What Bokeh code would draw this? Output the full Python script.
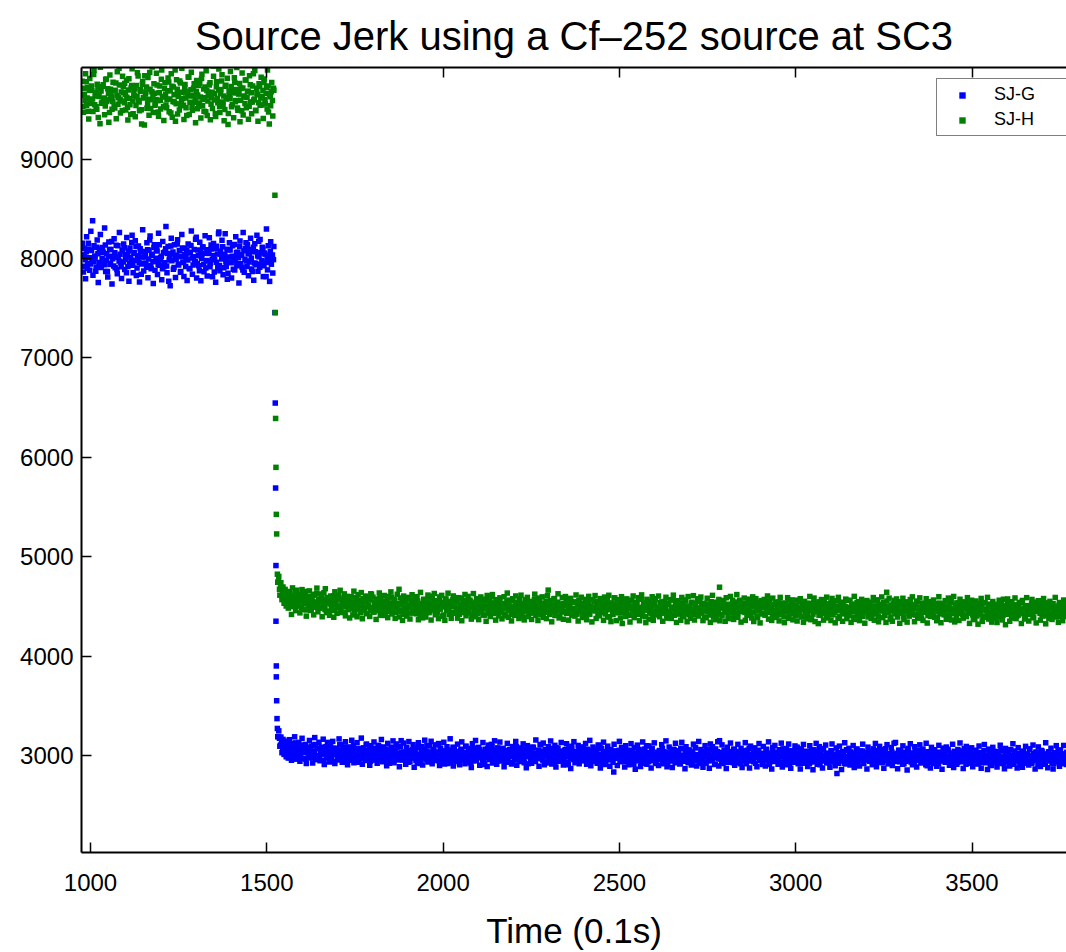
from bokeh.plotting import figure
from bokeh.models import Range1d, FixedTicker, LinearAxis, ColumnDataSource
from bokeh.embed import file_html
from bokeh.resources import INLINE

# ---------------- data ----------------
title_text = "Source Jerk using a Cf–252 source at SC3"
x_label = "Time (0.1s)"
series_names = ["SJ-G", "SJ-H"]
x_ticks = [1000, 1500, 2000, 2500, 3000, 3500]
y_ticks = [3000, 4000, 5000, 6000, 7000, 8000, 9000]

# sample times (0.1 s units) before and after the source was removed;
# two interleaved sample sets (a and b)
time_pre_a = list(range(976, 1522, 3))
time_pre_b = list(range(977, 1522, 3))
time_post_a = list(range(1530, 3772, 3))
time_post_b = list(range(1531, 3772, 3))

# ---- SJ-G (blue) ----
sj_g_pre_a = [
    8034, 7921, 8102, 7986, 8067, 7899, 8152, 8008, 7943, 8081,
    8379, 7967, 8025, 7872, 8113, 8046, 7958, 8094, 7910, 8003,
    8061, 7937, 8134, 7982, 7868, 8019, 8090, 7951, 8171, 7996,
    7925, 8056, 8011, 7889, 8128, 7973, 8042, 7917, 8085, 7964,
    8107, 7990, 7855, 8037, 8074, 7946, 8009, 8160, 7931, 8053,
    7978, 8119, 7904, 8026, 7961, 8098, 7840, 8015, 8069, 7952,
    8044, 7912, 8087, 7994, 8185, 7929, 8031, 7969, 8110, 7880,
    8001, 8076, 7940, 8138, 7987, 8022, 7895, 8058, 7956, 8097,
    7923, 8049, 7770, 8012, 8124, 7976, 8065, 7908, 8033, 7992,
    8145, 7944, 8079, 7862, 8018, 8106, 7959, 8040, 7918, 8083,
    7984, 8062, 7897, 8129, 8005, 7934, 8091, 7966, 8213, 7948,
    8027, 7876, 8071, 7999, 8116, 7939, 8052, 7903, 8087, 7975,
    8050, 7916, 8135, 7988, 8029, 7864, 8101, 7962, 8045, 8249,
    7930, 8073, 7995, 8118, 7906, 8038, 7970, 8092, 7851, 8014,
    8084, 7957, 8021, 7890, 8141, 7981, 8059, 7927, 8006, 8120,
    7947, 8036, 7884, 8077, 7993, 8158, 7919, 8048, 7965, 8089,
    8002, 7869, 8112, 7953, 8066, 7936, 8025, 8172, 7911, 8057,
    7979, 8094, 7926, 8043, 7817, 8010, 8127, 7960, 8070, 7942,
    8035, 7988,
]
sj_g_pre_b = [
    8152, 7863, 8031, 7795, 8218, 7947, 8096, 7881, 8274, 7990,
    7832, 8127, 8003, 7911, 8185, 7758, 8062, 8241, 7926, 8110,
    7974, 8305, 7869, 8047, 7812, 8166, 7938, 8089, 7743, 8021,
    8197, 7905, 8133, 7846, 8012, 8262, 7959, 7797, 8075, 8144,
    7889, 8036, 8211, 7920, 7771, 8104, 7982, 8233, 7855, 8058,
    8179, 7828, 7997, 8126, 7763, 8070, 7943, 8288, 7874, 8015,
    7952, 8159, 7806, 8083, 8226, 7897, 8041, 7749, 8138, 7968,
    8092, 7838, 8253, 7931, 8007, 7786, 8171, 7916, 8064, 8322,
    7857, 8119, 7985, 7724, 8202, 8046, 7891, 8137, 7809, 8028,
    8187, 7934, 8078, 7868, 8240, 7962, 7818, 8101, 8009, 7779,
    8146, 7899, 8057, 8276, 7841, 8018, 7956, 8193, 7802, 8086,
    7927, 8164, 7775, 8039, 8115, 7866, 8228, 7978, 7823, 8071,
    8209, 7948, 8094, 7815, 8151, 7993, 7760, 8122, 7907, 8266,
    7876, 8043, 8182, 7837, 8003, 8249, 7919, 7790, 8087, 8157,
    7965, 7803, 8128, 8010, 7884, 8219, 7937, 8061, 7752, 8175,
    8032, 7911, 8260, 7861, 8097, 7975, 8140, 7826, 8053, 8204,
    7893, 8069, 7781, 8148, 7950, 8233, 7871, 8016, 8191, 7940,
    8113, 7817, 8055, 7961, 8297, 7885, 8027, 7769, 8168, 7996,
    7853, 8120,
]
sj_g_step_time = [1523, 1524, 1525, 1526, 1526, 1527, 1527, 1528, 1529]
sj_g_step = [7455, 6545, 5690, 4910, 4350, 3900, 3790, 3550, 3370]
sj_g_post_a = [
    3271, 3188, 3172, 3104, 3139, 3061, 3118, 3049, 3097, 3031,
    3082, 3115, 3020, 3064, 2998, 3091, 3047, 3126, 3008, 3059,
    3073, 3018, 2987, 3044, 3102, 3029, 3066, 2961, 3035, 3081,
    3012, 3057, 3094, 2979, 3040, 3023, 3110, 2995, 3068, 3001,
    2984, 3049, 3077, 3015, 2950, 3036, 3088, 3009, 3131, 2972,
    3044, 2996, 3018, 3071, 2938, 3025, 3063, 2981, 3052, 3107,
    3006, 2964, 3039, 3085, 2991, 3020, 2947, 3058, 3013, 3076,
    2975, 3031, 3099, 2958, 3016, 3047, 2989, 2932, 3069, 3024,
    3054, 2993, 2968, 3037, 3109, 2979, 3012, 3061, 2940, 3028,
    2997, 3072, 3015, 2953, 3043, 2986, 3091, 3008, 2962, 3035,
    3019, 2945, 3064, 3002, 2977, 3050, 2921, 3026, 3083, 2990,
    3041, 2968, 3007, 3075, 2954, 3017, 2999, 3148, 2983, 3033,
    2959, 3022, 3066, 2994, 2931, 3045, 3010, 2972, 3057, 2987,
    3028, 2948, 3003, 3079, 2966, 2919, 3037, 3012, 2980, 3060,
    2993, 3041, 2955, 3018, 3096, 2974, 2937, 3024, 3051, 2989,
    2962, 3034, 3008, 2944, 3070, 2997, 3021, 2958, 2913, 3046,
    3015, 2976, 3053, 2991, 2934, 3030, 3082, 2968, 3004, 2950,
    3039, 2983, 2927, 3011, 3062, 2996, 2956, 3025, 3089, 2971,
    3002, 3048, 2963, 2918, 3033, 2987, 3074, 3009, 2945, 3020,
    2977, 3057, 2994, 3036, 2952, 3013, 2909, 3043, 2981, 3066,
    3014, 2969, 3029, 3092, 2988, 2940, 3055, 3006, 2961, 3031,
    2949, 3023, 2985, 3071, 3010, 2933, 2998, 3047, 2974, 3017,
    3060, 2992, 2926, 3038, 2966, 3003, 3087, 2957, 3019, 2980,
    3035, 2971, 3012, 2946, 3064, 2990, 3028, 2915, 3049, 3001,
    2962, 3026, 3081, 2979, 2938, 3016, 2995, 3053, 2968, 3108,
    2998, 2952, 3037, 3011, 2924, 3045, 2983, 3021, 2960, 3069,
    3007, 2975, 2931, 3033, 3076, 2987, 2950, 3014, 3042, 2966,
    3023, 2944, 3058, 2993, 3011, 2906, 3030, 2976, 3065, 2999,
    2958, 3040, 2981, 3017, 2937, 3050, 2972, 3004, 3085, 2949,
    3026, 2963, 2995, 3062, 2929, 3008, 3047, 2984, 2940, 3019,
    3055, 2977, 3035, 2953, 3002, 3079, 2967, 2921, 3028, 2990,
    2948, 3012, 3068, 2979, 3024, 2955, 3041, 2997, 2833, 3006,
    2970, 3032, 2986, 3051, 2935, 3015, 2962, 3073, 2994, 2942,
    3018, 2961, 3037, 2928, 2994, 3049, 2973, 2912, 3025, 2987,
    2946, 3006, 3060, 2969, 2930, 3022, 2988, 3041, 2954, 3097,
    2991, 2937, 3014, 2975, 3053, 2949, 3008, 2966, 2918, 3031,
    2980, 3044, 2957, 2999, 3070, 2943, 2986, 3027, 2962, 2905,
    3010, 2972, 3035, 2951, 2993, 3058, 2926, 3016, 2979, 3046,
    2964, 2921, 3003, 3065, 2982, 2940, 3024, 2997, 3052, 2958,
    3033, 2985, 2931, 3011, 2968, 3079, 2948, 3005, 2974, 2919,
    2996, 3040, 2960, 2923, 3018, 2987, 3056, 2945, 3009, 2977,
    3062, 2953, 2994, 3029, 2910, 2983, 3037, 2966, 3148, 2990,
    2941, 3013, 2978, 3049, 2956, 2999, 2932, 3025, 2970, 3038,
    2984, 2927, 3060, 2961, 3007, 2950, 3031, 2988, 2915, 3019,
    2973, 3046, 2995, 2937, 3014, 2968, 3071, 2944, 3002, 2958,
    3027, 2981, 2920, 3035, 2990, 3052, 2949, 2976, 3016, 2934,
    2965, 3008, 3043, 2952, 2986, 2909, 3023, 2971, 3058, 2997,
    2939, 3030, 2962, 3001, 2974, 3044, 2926, 2993, 3066, 2955,
    3012, 2947, 2985, 3036, 2913, 2979, 3021, 2960, 2998, 3049,
    2958, 3005, 2931, 2989, 3042, 2967, 2921, 3018, 2976, 2940,
    3031, 2963, 2997, 2915, 2980, 3054, 2948, 3009, 2972, 2936,
    2993, 3038, 2955, 2907, 3016, 2977, 3062, 2944, 2985, 3023,
    2968, 2926, 3002, 2961, 3047, 2984, 2937, 3011, 2953, 2818,
    3028, 2975, 2943, 3006, 2966, 3039, 2920, 2989, 3057, 2959,
    2932, 2998, 3035, 2970, 2913, 3019, 2982, 2947, 3064, 2962,
    3009, 2950, 2987, 3043, 2924, 2976, 3015, 2957, 2995, 3031,
    2941, 3002, 2966, 2909, 3026, 2979, 3050, 2935, 2991, 2963,
    3037, 2971, 2928, 3012, 2954, 3066, 2983, 2945, 3004, 2918,
    2986, 3033, 2960, 3121, 2973, 2939, 3020, 2994, 2951, 3046,
    2964, 2911, 2999, 3027, 2942, 2980, 3058, 2956, 3008, 2933,
    3017, 2968, 2925, 3041, 2983, 2948, 3003, 2969, 3052, 2937,
    2976, 3014, 2952, 2905, 2990, 3036, 2961, 2929, 3022, 2985,
    3048, 2944, 2993, 3010, 2958, 2914, 3031, 2972, 3000, 2946,
    2966, 3025, 2979, 2937, 3061, 2988, 2950, 3013, 2921, 2997,
    3034, 2959, 2996, 2932, 3007, 2974, 3045, 2943, 2981, 3019,
    2953, 2910, 3028, 2970, 2991, 3056, 2938, 2985, 2962, 3003,
    2945, 2989, 3030, 2918, 2971, 3012, 2956, 2931, 3047, 2979,
    2999, 2940, 2967, 3023, 2902, 2986, 2950, 3038, 2973, 2926,
    3015, 2962, 2934, 2993, 3051, 2947, 2980, 2919, 3008, 2968,
    2937, 3026, 2976, 2953, 3004, 2912, 2991, 3044, 2958, 2982,
    3021, 2949, 2906, 2972, 3035, 2965, 2929, 3010, 2987, 2943,
    2996, 3059, 2957, 2921, 2983, 3017, 2950, 3029, 2974, 2911,
    2969, 3002, 2936, 3041, 2961, 2990, 2927, 3013, 2955, 3033,
    2984, 2944, 3006, 2966, 2915, 3024, 2978, 2948, 3049, 2959,
    2930, 2995, 2970, 3016, 2941, 2987, 2909, 2963,
]
sj_g_post_b = [
    3188, 3247, 3092, 3185, 3027, 3161, 3010, 3143, 2986, 3125,
    2973, 3158, 3040, 2951, 3119, 3004, 3187, 2962, 3096, 3015,
    3131, 2940, 3074, 3172, 2968, 3029, 3110, 2919, 3063, 2997,
    3150, 2975, 3038, 2924, 3105, 3179, 2957, 3067, 2991, 3132,
    2946, 3083, 3014, 3163, 2909, 3051, 2980, 3117, 3025, 2934,
    3094, 2963, 3141, 3008, 2918, 3072, 3036, 2954, 3166, 2985,
    3109, 2931, 3056, 2978, 3137, 2996, 2907, 3085, 3019, 2950,
    3152, 2989, 2925, 3067, 3001, 3128, 2940, 3045, 2968, 3174,
    2912, 3076, 3020, 2949, 3114, 2982, 3050, 2901, 3097, 3031,
    2958, 3135, 2997, 3062, 2920, 3101, 2975, 3043, 3160, 2937,
    3085, 2966, 3028, 2896, 3121, 3009, 2944, 3070, 2990, 3146,
    2927, 3052, 3115, 2961, 3007, 2887, 3091, 3033, 2953, 3124,
    3017, 2910, 3080, 2971, 3139, 2939, 3046, 2998, 3108, 2881,
    3063, 2986, 2923, 3127, 3012, 2955, 3089, 2904, 3039, 3153,
    2962, 3098, 2934, 3035, 2992, 3142, 2915, 3058, 2977, 3106,
    2948, 3026, 3119, 2899, 3071, 2989, 2930, 3132, 3003, 2965,
    3087, 2919, 3048, 3167, 2952, 3011, 2893, 3079, 3024, 2942,
    3113, 2976, 2906, 3054, 3136, 2960, 3030, 2917, 3093, 2985,
    2928, 3069, 3005, 2879, 3118, 2947, 3041, 3150, 2970, 3016,
    3081, 2902, 3037, 2983, 3129, 2936, 3062, 2994, 2889, 3103,
    2958, 3045, 3111, 2924, 3000, 3147, 2966, 2911, 3076, 3021,
    3134, 2943, 2998, 3067, 2885, 3040, 2979, 3121, 2932, 3057,
    2990, 2913, 3089, 3018, 2955, 3140, 2900, 3050, 3003, 2939,
    3075, 2969, 3116, 2927, 3034, 2876, 3098, 2988, 3059, 2950,
    2921, 3083, 3012, 2945, 3155, 2974, 3027, 2892, 3109, 3043,
    2965, 3124, 2907, 3060, 2996, 2934, 3087, 2981, 3145, 2914,
    3053, 2957, 3101, 2883, 3026, 3072, 2941, 3008, 3130, 2972,
    2903, 3047, 2986, 3117, 2930, 3066, 3014, 2869, 3092, 2963,
    3138, 2925, 3036, 2977, 3100, 2916, 3055, 2999, 2945, 3079,
    2987, 3120, 2911, 3044, 2961, 3151, 2896, 3023, 3084, 2938,
    3061, 2979, 2922, 3105, 3009, 2873, 3070, 2953, 3133, 2990,
    2909, 3038, 3093, 2967, 2890, 3058, 3015, 2931, 3112, 2975,
    3046, 2898, 3002, 3141, 2944, 3081, 2964, 3028, 2882, 3097,
    2970, 3052, 2905, 3026, 3118, 2936, 2995, 3079, 2861, 3013,
    3103, 2948, 3041, 2889, 2983, 3135, 2921, 3064, 2976, 2911,
    3030, 3095, 2954, 2872, 3068, 2993, 3126, 2930, 3005, 2966,
    2899, 3049, 2980, 3108, 2917, 3037, 2958, 3146, 2885, 3020,
    3084, 2943, 3011, 2878, 3061, 2972, 3122, 2934, 3044, 2987,
    2914, 3072, 3131, 2950, 2998, 2866, 3087, 3016, 2926, 3055,
    2981, 2903, 3034, 3113, 2957, 3076, 2894, 3008, 3140, 2939,
    3059, 2968, 2880, 3024, 3098, 2922, 3046, 2985, 2871, 3115,
    2946, 3088, 3003, 2909, 3065, 2975, 3137, 2893, 3029, 2962,
    3106, 2918, 3050, 2987, 2868, 3082, 2953, 3019, 3124, 2932,
    2991, 3063, 2901, 3039, 2960, 3111, 2925, 2997, 3071, 2877,
    3035, 2949, 3128, 2915, 3052, 2984, 2874, 3093, 2966, 3010,
    2937, 3076, 2999, 2886, 3044, 3119, 2955, 3021, 2908, 3090,
    2979, 2894, 3062, 2973, 3136, 2929, 3007, 2864, 3080, 2952,
    3100, 2960, 3026, 2911, 3057, 2990, 3123, 2883, 3040, 2967,
    2905, 3069, 2943, 3114, 2976, 2870, 3048, 3002, 2932, 3095,
    2951, 3083, 2915, 3020, 2863, 3065, 2987, 3110, 2926, 2998,
    3042, 2889, 2967, 3097, 2934, 3019, 2856, 3056, 2980, 3121,
    2910, 3031, 3088, 2946, 2995, 2872, 3069, 2962, 3104, 2925,
    3013, 2957, 2880, 3047, 3115, 2939, 3001, 2897, 3075, 2971,
    2922, 3093, 2984, 2859, 3037, 2968, 3127, 2913, 3050, 2990,
    3071, 2903, 3024, 2945, 3099, 2877, 3008, 3062, 2932, 2979,
    2894, 3045, 2961, 3113, 2918, 3028, 2987, 2862, 3083, 2950,
    3034, 2974, 2908, 3066, 2941, 3120, 2885, 3003, 2965, 3091,
    2929, 3058, 2996, 2870, 3040, 2955, 3108, 2917, 3017, 2976,
    3079, 2899, 3011, 2942, 3130, 2983, 2866, 3053, 2937, 3004,
    2960, 3096, 2915, 3032, 2978, 2852, 3070, 2948, 3117, 2991,
    2906, 3025, 3087, 2958, 2882, 3049, 2971, 3106, 2924, 3014,
    3064, 2938, 2995, 3122, 2896, 3037, 2963, 2874, 3081, 2985,
    2919, 3057, 2977, 2890, 3030, 3101, 2944, 3012, 2860, 3073,
    2997, 2930, 3084, 2967, 3046, 2901, 3023, 2954, 3112, 2879,
    3041, 2972, 2911, 3059, 2986, 3125, 2935, 2999, 2868, 3068,
    2949, 3090, 2992, 2920, 3035, 2958, 3076, 2887, 3016, 2966,
    3052, 2913, 2979, 3094, 2941, 2870, 3027, 2984, 3109, 2926,
    2995, 2857, 3063, 2950, 3018, 2899, 3081, 2969, 2932, 3040,
    2884, 3011, 2960, 3102, 2918, 3047, 2975, 2865, 3070, 2942,
    3023, 2955, 2894, 3058, 2988, 3117, 2911, 3006, 2947, 2873,
    3078, 2937, 3001, 2964, 2880, 3043, 2921, 3091, 2972, 3015,
    2903, 3066, 2981, 2929, 3104, 2956, 2864, 3034, 2990, 3085,
    2945, 2888, 3050, 2968, 3013, 2910, 3127, 2951, 2876, 3037,
    2993, 3072, 2923, 2862, 3026, 2961, 3098, 2934, 3009, 2890,
    3055, 2943, 2982, 3100, 2917, 2974, 3031,
]

# ---- SJ-H (green) ----
sj_h_pre_a = [
    9641, 9528, 9712, 9589, 9778, 9615, 9482, 9693, 9560, 9736,
    9603, 9851, 9547, 9669, 9501, 9722, 9628, 9355, 9684, 9571,
    9748, 9612, 9534, 9806, 9596, 9657, 9469, 9701, 9623, 9580,
    9689, 9513, 9765, 9637, 9552, 9914, 9601, 9675, 9488, 9728,
    9566, 9650, 9793, 9521, 9694, 9610, 9447, 9739, 9585, 9662,
    9708, 9539, 9627, 9836, 9574, 9683, 9496, 9752, 9619, 9343,
    9655, 9724, 9560, 9601, 9870, 9509, 9677, 9632, 9758, 9541,
    9598, 9745, 9473, 9666, 9590, 9803, 9624, 9527, 9710, 9652,
    9517, 9686, 9775, 9604, 9462, 9733, 9579, 9648, 9895, 9556,
    9702, 9631, 9493, 9764, 9587, 9671, 9540, 9719, 9613, 9438,
    9660, 9823, 9571, 9697, 9522, 9640, 9757, 9594, 9679, 9506,
    9739, 9563, 9625, 9811, 9535, 9704, 9617, 9476, 9690, 9583,
    9643, 9768, 9550, 9672, 9936, 9595, 9458, 9727, 9608, 9694,
    9529, 9656, 9784, 9573, 9635, 9498, 9742, 9620, 9347, 9685,
    9606, 9731, 9545, 9664, 9818, 9577, 9700, 9514, 9654, 9761,
    9592, 9486, 9715, 9634, 9558, 9795, 9622, 9681, 9530, 9747,
    9668, 9575, 9859, 9604, 9490, 9713, 9646, 9567, 9729, 9615,
    9544, 9690, 9772, 9597, 9659, 9503, 9735, 9352, 9626, 9676,
    9588, 9711,
]
sj_h_pre_b = [
    9783, 9471, 9652, 9858, 9540, 9719, 9402, 9811, 9596, 9689,
    9478, 9890, 9633, 9525, 9752, 9418, 9677, 9923, 9561, 9730,
    9612, 9445, 9801, 9579, 9706, 9370, 9846, 9650, 9502, 9772,
    9531, 9690, 9405, 9879, 9617, 9744, 9463, 9585, 9832, 9666,
    9759, 9493, 9622, 9394, 9807, 9547, 9715, 9908, 9456, 9638,
    9426, 9741, 9869, 9589, 9486, 9697, 9353, 9780, 9614, 9838,
    9674, 9512, 9820, 9441, 9703, 9596, 9927, 9468, 9661, 9557,
    9862, 9590, 9431, 9735, 9504, 9897, 9629, 9389, 9768, 9543,
    9600, 9815, 9475, 9686, 9859, 9420, 9724, 9574, 9381, 9797,
    9452, 9667, 9786, 9535, 9913, 9610, 9397, 9749, 9517, 9683,
    9826, 9449, 9633, 9872, 9492, 9713, 9569, 9364, 9790, 9645,
    9530, 9763, 9412, 9852, 9598, 9481, 9725, 9889, 9437, 9671,
    9745, 9395, 9618, 9509, 9834, 9656, 9428, 9777, 9566, 9906,
    9468, 9700, 9847, 9550, 9384, 9732, 9603, 9813, 9459, 9640,
    9881, 9527, 9694, 9416, 9770, 9588, 9921, 9490, 9657, 9375,
    9709, 9866, 9443, 9624, 9795, 9515, 9680, 9401, 9838, 9572,
    9455, 9736, 9593, 9890, 9487, 9663, 9380, 9757, 9542, 9824,
    9628, 9409, 9806, 9556, 9719, 9896, 9474, 9650, 9537, 9771,
    9432, 9691,
]
sj_h_step_time = [1523, 1524, 1525, 1526, 1527, 1528]
sj_h_step = [8636, 7455, 6390, 5898, 5425, 5228]
sj_h_post_a = [
    4823, 4752, 4671, 4695, 4608, 4647, 4569, 4631, 4552, 4604,
    4589, 4513, 4628, 4547, 4601, 4496, 4575, 4652, 4531, 4568,
    4502, 4580, 4619, 4487, 4556, 4534, 4611, 4463, 4572, 4525,
    4596, 4518, 4470, 4553, 4609, 4491, 4544, 4627, 4505, 4562,
    4481, 4546, 4594, 4509, 4637, 4467, 4529, 4571, 4452, 4540,
    4578, 4497, 4533, 4606, 4459, 4521, 4565, 4488, 4612, 4503,
    4466, 4549, 4515, 4583, 4441, 4530, 4499, 4570, 4475, 4527,
    4595, 4485, 4541, 4448, 4522, 4587, 4471, 4508, 4559, 4434,
    4517, 4576, 4460, 4493, 4548, 4427, 4506, 4563, 4479, 4620,
    4488, 4449, 4538, 4501, 4567, 4456, 4519, 4585, 4437, 4496,
    4552, 4473, 4428, 4511, 4580, 4490, 4446, 4533, 4592, 4468,
    4505, 4560, 4439, 4482, 4526, 4671, 4457, 4514, 4551, 4420,
    4493, 4542, 4465, 4579, 4432, 4508, 4486, 4564, 4448, 4520,
    4470, 4537, 4591, 4454, 4499, 4418, 4528, 4477, 4553, 4495,
    4436, 4510, 4569, 4482, 4445, 4532, 4601, 4463, 4503, 4541,
    4487, 4424, 4515, 4558, 4471, 4496, 4540, 4413, 4506, 4574,
    4459, 4527, 4481, 4442, 4550, 4498, 4567, 4430, 4512, 4478,
    4545, 4466, 4420, 4507, 4583, 4474, 4436, 4521, 4490, 4556,
    4450, 4513, 4562, 4484, 4409, 4534, 4497, 4461, 4548, 4425,
    4492, 4571, 4444, 4518, 4476, 4539, 4411, 4502, 4560, 4469,
    4431, 4525, 4486, 4594, 4458, 4507, 4443, 4553, 4479, 4516,
    4561, 4437, 4499, 4472, 4530, 4404, 4489, 4546, 4462, 4520,
    4483, 4417, 4556, 4495, 4448, 4538, 4468, 4509, 4426, 4572,
    4501, 4464, 4528, 4390, 4487, 4543, 4455, 4519, 4476, 4432,
    4536, 4492, 4445, 4566, 4471, 4510, 4419, 4482, 4549, 4458,
    4415, 4523, 4480, 4440, 4551, 4496, 4663, 4465, 4531, 4488,
    4452, 4507, 4578, 4428, 4494, 4541, 4461, 4401, 4515, 4473,
    4529, 4446, 4503, 4568, 4435, 4485, 4522, 4457, 4544, 4412,
    4478, 4537, 4463, 4421, 4509, 4559, 4450, 4498, 4426, 4532,
    4491, 4407, 4518, 4475, 4547, 4439, 4504, 4565, 4460, 4486,
    4543, 4454, 4493, 4416, 4526, 4481, 4438, 4552, 4470, 4511,
    4423, 4500, 4557, 4466, 4397, 4534, 4477, 4443, 4519, 4585,
    4458, 4513, 4434, 4490, 4548, 4451, 4327, 4524, 4469, 4505,
    4445, 4532, 4480, 4410, 4497, 4555, 4462, 4427, 4516, 4474,
    4539, 4419, 4488, 4453, 4570, 4441, 4502, 4465, 4396, 4527,
    4484, 4545, 4435, 4511, 4468, 4403, 4520, 4557, 4449, 4493,
    4414, 4476, 4536, 4459, 4498, 4431, 4549, 4482, 4408, 4515,
    4528, 4452, 4405, 4491, 4563, 4470, 4437, 4506, 4544, 4421,
    4473, 4535, 4461, 4399, 4512, 4479, 4552, 4428, 4495, 4458,
    4501, 4424, 4541, 4467, 4416, 4527, 4483, 4446, 4575, 4460,
    4436, 4509, 4455, 4530, 4392, 4487, 4523, 4448, 4499, 4412,
    4546, 4471, 4430, 4514, 4477, 4405, 4538, 4463, 4692, 4484,
    4418, 4496, 4559, 4442, 4505, 4466, 4395, 4521, 4478, 4433,
    4512, 4457, 4401, 4488, 4543, 4429, 4492, 4561, 4445, 4503,
    4469, 4526, 4438, 4480, 4409, 4533, 4474, 4420, 4507, 4551,
    4441, 4494, 4537, 4453, 4386, 4516, 4465, 4502, 4426, 4547,
    4485, 4413, 4528, 4470, 4439, 4554, 4451, 4497, 4411, 4519,
    4463, 4525, 4404, 4490, 4542, 4458, 4417, 4508, 4476, 4394,
    4531, 4447, 4489, 4564, 4422, 4481, 4515, 4436, 4498, 4460,
    4407, 4511, 4472, 4437, 4548, 4464, 4393, 4496, 4530, 4449,
    4483, 4419, 4527, 4458, 4501, 4382, 4477, 4540, 4444, 4505,
    4466, 4531, 4411, 4489, 4453, 4519, 4428, 4562, 4471, 4400,
    4507, 4448, 4491, 4534, 4415, 4475, 4526, 4439, 4497, 4455,
    4378, 4486, 4542, 4462, 4424, 4513, 4451, 4495, 4560, 4433,
    4490, 4405, 4468, 4522, 4446, 4388, 4501, 4479, 4537, 4427,
    4459, 4514, 4437, 4399, 4485, 4550, 4442, 4506, 4461, 4418,
    4529, 4474, 4413, 4492, 4446, 4552, 4434, 4482, 4397, 4517,
    4452, 4503, 4464, 4536, 4420, 4478, 4641, 4441, 4499, 4456,
    4391, 4487, 4525, 4443, 4508, 4466, 4416, 4531, 4470, 4432,
    4511, 4458, 4394, 4481, 4545, 4450, 4491, 4425, 4504, 4468,
    4437, 4519, 4476, 4412, 4493, 4548, 4429, 4487, 4455, 4381,
    4502, 4462, 4528, 4440, 4483, 4408, 4516, 4451, 4539, 4472,
    4421, 4495, 4446, 4510, 4384, 4477, 4532, 4438, 4500, 4459,
    4524, 4430, 4487, 4467, 4403, 4506, 4449, 4558, 4426, 4480,
    4445, 4512, 4389, 4471, 4533, 4436, 4497, 4455, 4419, 4521,
    4484, 4406, 4466, 4542, 4431, 4490, 4452, 4514, 4376, 4475,
    4432, 4503, 4461, 4415, 4527, 4447, 4488, 4398, 4470, 4536,
    4456, 4417, 4494, 4441, 4510, 4363, 4478, 4429, 4519, 4463,
    4497, 4435, 4391, 4482, 4528, 4444, 4408, 4501, 4459, 4420,
    4533, 4466, 4427, 4490, 4382, 4473, 4514, 4439, 4486, 4401,
    4450, 4512, 4436, 4469, 4541, 4425, 4483, 4394, 4507, 4458,
    4418, 4496, 4453, 4524, 4437, 4388, 4474, 4519, 4446, 4488,
    4505, 4428, 4477, 4412, 4493, 4462, 4535, 4404, 4471, 4443,
    4386, 4489, 4521, 4440, 4480, 4419, 4498, 4455, 4396, 4513,
    4449, 4485, 4410, 4527, 4463, 4431, 4500, 4452,
]
sj_h_post_b = [
    4742, 4801, 4612, 4738, 4567, 4694, 4531, 4670, 4503, 4649,
    4482, 4637, 4559, 4418, 4685, 4520, 4603, 4456, 4662, 4541,
    4611, 4434, 4587, 4668, 4470, 4529, 4650, 4401, 4563, 4492,
    4655, 4458, 4592, 4518, 4414, 4620, 4537, 4683, 4445, 4570,
    4482, 4624, 4395, 4561, 4509, 4677, 4436, 4588, 4524, 4409,
    4603, 4461, 4558, 4390, 4646, 4512, 4429, 4579, 4487, 4661,
    4437, 4571, 4498, 4625, 4404, 4539, 4600, 4466, 4383, 4594,
    4526, 4413, 4652, 4478, 4560, 4395, 4617, 4503, 4449, 4638,
    4375, 4548, 4469, 4603, 4427, 4580, 4511, 4398, 4626, 4455,
    4592, 4441, 4519, 4368, 4573, 4486, 4634, 4410, 4552, 4477,
    4408, 4609, 4462, 4538, 4386, 4596, 4470, 4645, 4423, 4529,
    4568, 4379, 4506, 4621, 4450, 4393, 4584, 4515, 4358, 4603,
    4447, 4563, 4402, 4590, 4491, 4372, 4535, 4616, 4431, 4509,
    4597, 4424, 4553, 4365, 4508, 4640, 4457, 4384, 4571, 4480,
    4392, 4539, 4613, 4436, 4501, 4362, 4582, 4470, 4629, 4415,
    4556, 4448, 4376, 4594, 4488, 4610, 4400, 4527, 4359, 4574,
    4497, 4632, 4418, 4543, 4380, 4518, 4604, 4437, 4565, 4466,
    4381, 4587, 4459, 4512, 4355, 4560, 4485, 4619, 4405, 4531,
    4600, 4432, 4548, 4371, 4503, 4628, 4440, 4395, 4577, 4471,
    4366, 4523, 4594, 4453, 4412, 4571, 4490, 4349, 4609, 4438,
    4551, 4397, 4488, 4618, 4427, 4535, 4361, 4567, 4479, 4403,
    4585, 4445, 4374, 4521, 4596, 4416, 4506, 4633, 4390, 4562,
    4458, 4353, 4576, 4480, 4409, 4604, 4466, 4541, 4377, 4526,
    4612, 4421, 4499, 4363, 4568, 4451, 4590, 4396, 4537, 4472,
    4368, 4549, 4435, 4622, 4410, 4516, 4357, 4583, 4462, 4504,
    4595, 4389, 4530, 4456, 4376, 4607, 4493, 4419, 4556, 4344,
    4481, 4574, 4407, 4538, 4465, 4626, 4383, 4511, 4443, 4589,
    4370, 4520, 4598, 4429, 4557, 4361, 4495, 4580, 4412, 4468,
    4545, 4401, 4614, 4476, 4352, 4533, 4452, 4591, 4387, 4508,
    4439, 4570, 4365, 4527, 4600, 4420, 4486, 4343, 4563, 4457,
    4608, 4378, 4496, 4551, 4404, 4578, 4440, 4514, 4359, 4593,
    4463, 4540, 4392, 4611, 4475, 4346, 4528, 4418, 4584, 4490,
    4356, 4566, 4448, 4502, 4381, 4597, 4434, 4559, 4471, 4398,
    4575, 4413, 4520, 4342, 4561, 4449, 4604, 4386, 4497, 4538,
    4426, 4587, 4355, 4483, 4615, 4403, 4539, 4461, 4336, 4570,
    4492, 4371, 4548, 4430, 4596, 4359, 4517, 4578, 4417, 4466,
    4603, 4395, 4474, 4545, 4350, 4509, 4436, 4591, 4381, 4527,
    4441, 4567, 4378, 4485, 4612, 4409, 4530, 4338, 4556, 4454,
    4521, 4360, 4589, 4445, 4397, 4564, 4475, 4345, 4598, 4419,
    4380, 4533, 4468, 4607, 4362, 4500, 4427, 4575, 4402, 4549,
    4593, 4433, 4356, 4522, 4458, 4385, 4581, 4447, 4519, 4339,
    4476, 4610, 4392, 4541, 4365, 4496, 4422, 4569, 4354, 4513,
    4405, 4552, 4481, 4349, 4586, 4443, 4512, 4376, 4599, 4438,
    4560, 4368, 4503, 4427, 4618, 4390, 4467, 4544, 4341, 4528,
    4452, 4583, 4359, 4489, 4414, 4572, 4436, 4506, 4383, 4595,
    4347, 4516, 4577, 4400, 4535, 4462, 4333, 4557, 4424, 4490,
    4569, 4411, 4479, 4604, 4371, 4526, 4445, 4358, 4582, 4457,
    4388, 4543, 4426, 4495, 4353, 4590, 4417, 4532, 4470, 4336,
    4524, 4448, 4587, 4379, 4508, 4431, 4564, 4364, 4499, 4420,
    4562, 4352, 4487, 4415, 4576, 4398, 4523, 4340, 4550, 4436,
    4374, 4531, 4459, 4599, 4365, 4492, 4421, 4583, 4347, 4510,
    4460, 4326, 4545, 4409, 4568, 4437, 4361, 4515, 4479, 4592,
    4383, 4525, 4442, 4357, 4579, 4416, 4497, 4334, 4556, 4468,
    4590, 4395, 4471, 4536, 4349, 4508, 4429, 4572, 4376, 4485,
    4418, 4561, 4339, 4493, 4446, 4600, 4368, 4519, 4404, 4547,
    4356, 4482, 4570, 4412, 4533, 4330, 4475, 4558, 4393, 4501,
    4541, 4378, 4450, 4588, 4360, 4496, 4423, 4565, 4344, 4518,
    4463, 4594, 4386, 4527, 4408, 4338, 4553, 4440, 4582, 4371,
    4506, 4350, 4469, 4560, 4427, 4574, 4392, 4489, 4329, 4546,
    4435, 4581, 4367, 4514, 4455, 4341, 4537, 4401, 4568, 4474,
    4595, 4419, 4345, 4498, 4552, 4381, 4462, 4585, 4410, 4530,
    4358, 4505, 4443, 4576, 4332, 4486, 4548, 4398, 4520, 4447,
    4563, 4389, 4528, 4355, 4470, 4596, 4424, 4335, 4511, 4478,
    4414, 4557, 4370, 4492, 4583, 4405, 4540, 4362, 4467, 4599,
    4343, 4483, 4534, 4427, 4357, 4571, 4452, 4509, 4381, 4545,
    4518, 4396, 4587, 4440, 4328, 4499, 4561, 4413, 4476, 4366,
    4553, 4403, 4320, 4496, 4431, 4579, 4348, 4468, 4537, 4389,
    4465, 4590, 4372, 4522, 4414, 4341, 4548, 4455, 4383, 4517,
    4337, 4484, 4561, 4408, 4525, 4363, 4571, 4439, 4315, 4502,
    4574, 4424, 4350, 4493, 4546, 4397, 4460, 4584, 4376, 4513,
    4411, 4539, 4466, 4327, 4559, 4433, 4372, 4505, 4587, 4419,
    4352, 4497, 4428, 4569, 4385, 4476, 4542, 4333, 4481, 4556,
    4490, 4361, 4533, 4402, 4578, 4443, 4324, 4515, 4449, 4380,
    4550, 4418, 4368, 4526, 4457, 4589, 4393, 4471, 4339, 4538,
    4426, 4506, 4355, 4563, 4436, 4487, 4397,
]


def pair(ts, vs):
    n = min(len(ts), len(vs))
    return ts[:n], vs[:n]


def build(pre_a, pre_b, step_t, step_v, post_a, post_b):
    xs, ys = [], []
    for ts, vs in ((time_pre_a, pre_a), (time_pre_b, pre_b), (step_t, step_v),
                   (time_post_a, post_a), (time_post_b, post_b)):
        t, v = pair(ts, vs)
        xs += t
        ys += v
    return ColumnDataSource(data=dict(t=xs, v=ys))


src_g = build(sj_g_pre_a, sj_g_pre_b, sj_g_step_time, sj_g_step, sj_g_post_a, sj_g_post_b)
src_h = build(sj_h_pre_a, sj_h_pre_b, sj_h_step_time, sj_h_step, sj_h_post_a, sj_h_post_b)

FONT = "Liberation Sans"

p = figure(
    width=1066, height=952,
    x_range=Range1d(974.5, 3768), y_range=Range1d(2023, 9921),
    output_backend="svg", toolbar_location=None,
    min_border_left=81, min_border_right=0, min_border_top=67, min_border_bottom=100,
    title=title_text,
)
p.outline_line_color = None
p.background_fill_color = "white"
p.border_fill_color = "white"
p.xgrid.visible = False
p.ygrid.visible = False

p.title.align = "center"
p.title.offset = 5
p.title.text_font = FONT
p.title.text_font_size = "40px"
p.title.text_font_style = "normal"
p.title.text_color = "black"
p.title.standoff = 20

p.xaxis.ticker = FixedTicker(ticks=x_ticks)
p.yaxis.ticker = FixedTicker(ticks=y_ticks)
p.xaxis.axis_label = x_label

for ax in (p.xaxis[0], p.yaxis[0]):
    ax.axis_line_width = 2
    ax.axis_line_color = "black"
    ax.major_tick_in = 10
    ax.major_tick_out = 0
    ax.major_tick_line_width = 1.5
    ax.major_tick_line_color = "black"
    ax.minor_tick_in = 0
    ax.minor_tick_out = 0
    ax.major_label_text_font = FONT
    ax.major_label_text_font_size = "24px"
    ax.major_label_text_color = "black"

p.xaxis.major_label_standoff = 21
p.yaxis.major_label_standoff = 8
p.xaxis.axis_label_text_font = FONT
p.xaxis.axis_label_text_font_size = "35px"
p.xaxis.axis_label_text_font_style = "normal"
p.xaxis.axis_label_text_color = "black"
p.xaxis.axis_label_standoff = 17

top_axis = LinearAxis(
    ticker=FixedTicker(ticks=x_ticks),
    axis_line_width=2, axis_line_color="black",
    major_tick_in=10, major_tick_out=0, major_tick_line_width=1.5,
    minor_tick_in=0, minor_tick_out=0,
    major_label_text_font_size="0px", major_label_standoff=0,
)
p.add_layout(top_axis, "above")

p.scatter("t", "v", source=src_g, marker="square", size=5.5,
          fill_color="#0000ff", line_color=None, legend_label=series_names[0])
p.scatter("t", "v", source=src_h, marker="square", size=5.5,
          fill_color="#008000", line_color=None, legend_label=series_names[1])

lg = p.legend[0]
lg.location = (855, 716)
lg.border_line_color = "black"
lg.border_line_width = 1.5
lg.background_fill_color = "white"
lg.background_fill_alpha = 1
lg.padding = 5
lg.margin = 0
lg.spacing = 4
lg.glyph_width = 40
lg.glyph_height = 16
lg.label_height = 16
lg.label_width = 80
lg.label_standoff = 12
lg.label_text_font = FONT
lg.label_text_font_size = "18px"
lg.label_text_color = "black"

open("out.html", "w").write(file_html(p, INLINE))
